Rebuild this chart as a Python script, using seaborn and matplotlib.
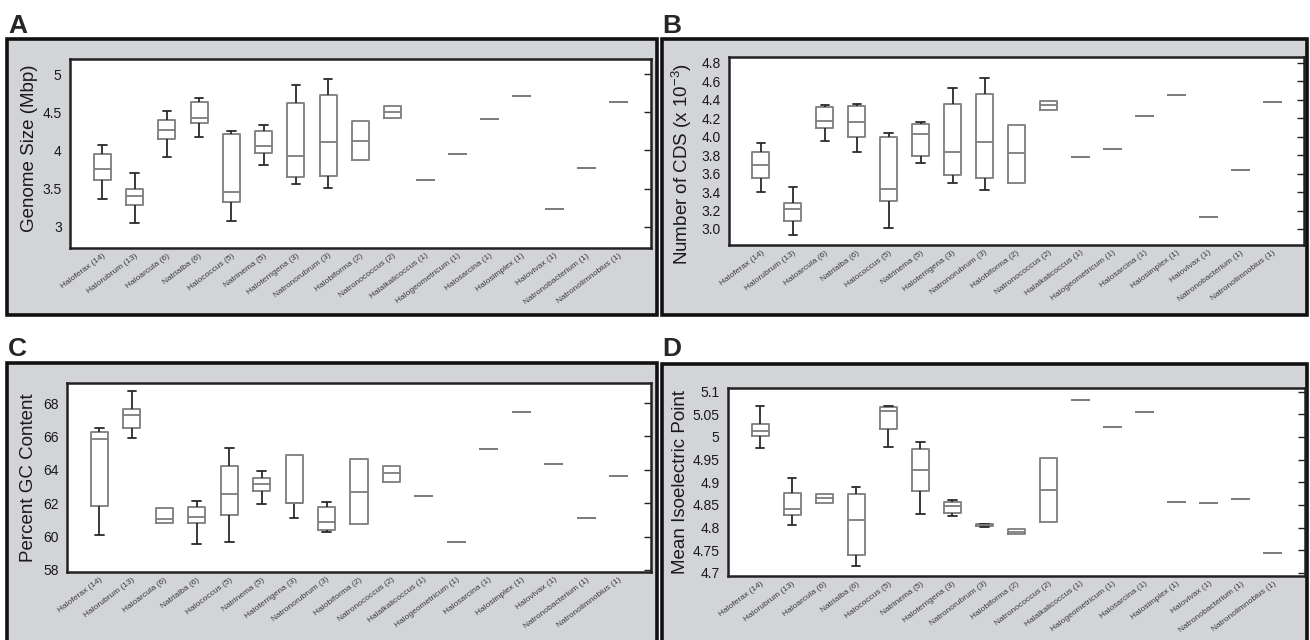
import matplotlib
matplotlib.use("Agg")
import matplotlib.pyplot as plt
import matplotlib.ticker as mticker
from matplotlib.patches import Rectangle
import pandas as pd
import seaborn as sns

genera = ["Haloferax (14)", "Halorubrum (13)", "Haloarcula (6)", "Natrialba (6)",
          "Halococcus (5)", "Natrinema (5)", "Haloterrigena (3)", "Natronorubrum (3)",
          "Halobiforma (2)", "Natronococcus (2)", "Halalkalicoccus (1)",
          "Halogeometricum (1)", "Halosarcina (1)", "Halosimplex (1)", "Halovivax (1)",
          "Natronobacterium (1)", "Natronolimnobius (1)"]

# A: genome size (Mbp) -- whisker low, q1, median, q3, whisker high
size_lo = [3.36, 3.05, 3.92, 4.17, 3.08, 3.81, 3.56, 3.51, 3.87, 4.43, 3.61, 3.95, 4.41, 4.71, 3.23, 3.77, 4.64]
size_q1 = [3.61, 3.28, 4.15, 4.36, 3.33, 3.97, 3.65, 3.66, 3.87, 4.43, 3.61, 3.95, 4.41, 4.71, 3.23, 3.77, 4.64]
size_med = [3.76, 3.40, 4.27, 4.43, 3.46, 4.06, 3.93, 4.11, 4.12, 4.50, 3.61, 3.95, 4.41, 4.71, 3.23, 3.77, 4.64]
size_q3 = [3.96, 3.49, 4.40, 4.63, 4.22, 4.26, 4.62, 4.73, 4.38, 4.58, 3.61, 3.95, 4.41, 4.71, 3.23, 3.77, 4.64]
size_hi = [4.07, 3.70, 4.52, 4.69, 4.26, 4.33, 4.86, 4.94, 4.38, 4.58, 3.61, 3.95, 4.41, 4.71, 3.23, 3.77, 4.64]

# B: number of CDS (x 10^-3)
cds_lo = [3.40, 2.93, 3.95, 3.84, 3.01, 3.72, 3.50, 3.42, 3.50, 4.29, 3.78, 3.87, 4.22, 4.45, 3.13, 3.64, 4.38]
cds_q1 = [3.55, 3.09, 4.09, 4.00, 3.30, 3.79, 3.58, 3.55, 3.50, 4.29, 3.78, 3.87, 4.22, 4.45, 3.13, 3.64, 4.38]
cds_med = [3.69, 3.22, 4.17, 4.16, 3.43, 4.03, 3.84, 3.94, 3.82, 4.34, 3.78, 3.87, 4.22, 4.45, 3.13, 3.64, 4.38]
cds_q3 = [3.84, 3.28, 4.32, 4.33, 4.00, 4.14, 4.36, 4.46, 4.13, 4.39, 3.78, 3.87, 4.22, 4.45, 3.13, 3.64, 4.38]
cds_hi = [3.93, 3.45, 4.34, 4.36, 4.04, 4.16, 4.53, 4.64, 4.13, 4.39, 3.78, 3.87, 4.22, 4.45, 3.13, 3.64, 4.38]

# C: percent GC content
gc_lo = [60.07, 65.89, 60.81, 59.53, 59.69, 61.98, 61.09, 60.27, 60.74, 63.26, 62.46, 59.69, 65.27, 67.46, 64.37, 61.11, 63.64]
gc_q1 = [61.82, 66.49, 60.81, 60.81, 61.31, 62.76, 62.04, 60.39, 60.74, 63.26, 62.46, 59.69, 65.27, 67.46, 64.37, 61.11, 63.64]
gc_med = [65.85, 67.30, 61.05, 61.17, 62.56, 63.14, 62.04, 60.87, 62.70, 63.78, 62.46, 59.69, 65.27, 67.46, 64.37, 61.11, 63.64]
gc_q3 = [66.29, 67.64, 61.74, 61.80, 64.25, 63.50, 64.89, 61.76, 64.65, 64.25, 62.46, 59.69, 65.27, 67.46, 64.37, 61.11, 63.64]
gc_hi = [66.53, 68.70, 61.74, 62.14, 65.29, 63.94, 64.89, 62.08, 64.65, 64.25, 62.46, 59.69, 65.27, 67.46, 64.37, 61.11, 63.64]

# D: mean isoelectric point
pi_lo = [4.976, 4.806, 4.854, 4.714, 4.977, 4.830, 4.826, 4.801, 4.785, 4.813, 5.081, 5.021, 5.054, 4.857, 4.854, 4.862, 4.743]
pi_q1 = [5.003, 4.827, 4.854, 4.739, 5.017, 4.880, 4.832, 4.803, 4.785, 4.813, 5.081, 5.021, 5.054, 4.857, 4.854, 4.862, 4.743]
pi_med = [5.013, 4.842, 4.866, 4.817, 5.057, 4.926, 4.847, 4.805, 4.790, 4.883, 5.081, 5.021, 5.054, 4.857, 4.854, 4.862, 4.743]
pi_q3 = [5.029, 4.877, 4.875, 4.873, 5.065, 4.974, 4.857, 4.807, 4.796, 4.954, 5.081, 5.021, 5.054, 4.857, 4.854, 4.862, 4.743]
pi_hi = [5.069, 4.909, 4.875, 4.890, 5.069, 4.989, 4.861, 4.808, 4.796, 4.954, 5.081, 5.021, 5.054, 4.857, 4.854, 4.862, 4.743]

W, H = 1310, 640
GREY_BG = "#d3d4d8"


def make_df(lo, q1, med, q3, hi):
    # five-number summary per genus; with whis=(0, 100) seaborn redraws it exactly
    rows = []
    for g, a, b, c, d, e in zip(genera, lo, q1, med, q3, hi):
        for v in (a, b, c, d, e):
            rows.append((g, v))
    return pd.DataFrame(rows, columns=["genus", "value"])


def px_rect(left, top, right, bottom):
    return [left / W, 1 - bottom / H, (right - left) / W, (bottom - top) / H]


def draw_panel(fig, frame, letter_xy, letter, axbox, df, ylabel, label_xy, ylim, ticks, fmt):
    fx0, fy0, fx1, fy1 = frame
    r = Rectangle((fx0 / W, 1 - fy1 / H), (fx1 - fx0) / W, (fy1 - fy0) / H,
                  transform=fig.transFigure, facecolor=GREY_BG, edgecolor="#111111",
                  linewidth=2.6, zorder=-5)
    fig.patches.append(r)
    fig.text(letter_xy[0] / W, 1 - letter_xy[1] / H, letter, fontsize=19,
             fontweight="bold", va="top", ha="left")

    ax = fig.add_axes(px_rect(*axbox))
    ax.set_facecolor("white")
    sns.boxplot(data=df, x="genus", y="value", order=genera, whis=(0, 100),
                width=0.53, fill=False, color="#7d7d7d", linewidth=1.3,
                boxprops=dict(color="#7d7d7d"), medianprops=dict(color="#7d7d7d"),
                whiskerprops=dict(color="#2a2a2a"), capprops=dict(color="#2a2a2a"),
                ax=ax)
    # hide caps of zero-length whiskers (boxes with n<=2)
    for cont in ax.containers:
        for i, wk in enumerate(cont.whiskers):
            y = wk.get_ydata()
            if abs(y[1] - y[0]) < 1e-9:
                cont.caps[i].set_visible(False)

    ax.set_xlim(-1, 17)
    ax.set_ylim(*ylim)
    ax.set_yticks(ticks)
    ax.yaxis.set_major_formatter(mticker.FormatStrFormatter(fmt))
    ax.set_xlabel("")
    ax.set_ylabel(ylabel, fontsize=13.5, color="#1a1a1a")
    ax.yaxis.set_label_coords(*label_xy)
    ax.tick_params(axis="x", length=0, pad=3, labelsize=6, labelcolor="#3a3a3a")
    ax.tick_params(axis="y", direction="out", length=4, width=1, labelsize=10,
                   pad=2, color="#222222", labelcolor="#1a1a1a")
    plt.setp(ax.get_xticklabels(), rotation=37, ha="right", rotation_mode="anchor")
    for s in ax.spines.values():
        s.set_color("#222222")
        s.set_linewidth(1.8)
    sec = ax.secondary_yaxis("right")
    sec.set_yticks(ticks)
    sec.tick_params(direction="in", length=5, width=1, labelright=False, color="#222222")
    sec.spines["right"].set_visible(False)
    return ax


sns.set_style("white")
plt.rcParams["font.family"] = ["Liberation Sans", "DejaVu Sans"]
plt.rcParams["mathtext.default"] = "regular"

fig = plt.figure(figsize=(W / 100, H / 100), dpi=100)

draw_panel(fig, (7, 39, 657, 315), (8, 14), "A", (70, 59, 651, 248),
           make_df(size_lo, size_q1, size_med, size_q3, size_hi),
           "Genome Size (Mbp)", (-0.055, 0.53), (2.72, 5.2),
           [3, 3.5, 4, 4.5, 5], "%g")

draw_panel(fig, (662, 39, 1307, 315), (662, 14), "B", (729, 57, 1304, 245),
           make_df(cds_lo, cds_q1, cds_med, cds_q3, cds_hi),
           "Number of CDS (x 10$^{-3}$)", (-0.061, 0.43), (2.826, 4.865),
           [3.0, 3.2, 3.4, 3.6, 3.8, 4.0, 4.2, 4.4, 4.6, 4.8], "%.1f")

draw_panel(fig, (7, 363, 657, 648), (8, 337), "C", (67, 383, 651, 572),
           make_df(gc_lo, gc_q1, gc_med, gc_q3, gc_hi),
           "Percent GC Content", (-0.051, 0.5), (57.88, 69.2),
           [58, 60, 62, 64, 66, 68], "%d")

draw_panel(fig, (662, 364, 1307, 648), (662, 337), "D", (728, 388, 1305, 576),
           make_df(pi_lo, pi_q1, pi_med, pi_q3, pi_hi),
           "Mean Isoelectric Point", (-0.068, 0.5), (4.693, 5.108),
           [4.7, 4.75, 4.8, 4.85, 4.9, 4.95, 5.0, 5.05, 5.1], "%g")

fig.savefig("out.png", dpi=100, facecolor="white")
